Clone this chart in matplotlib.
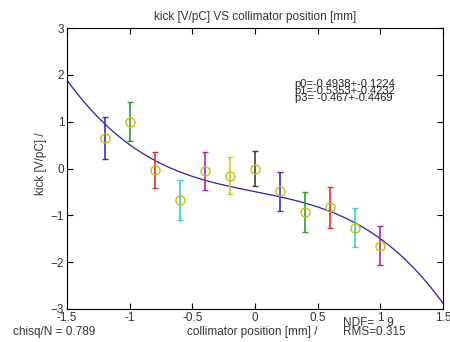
import numpy as np
import matplotlib
matplotlib.use('Agg')
import matplotlib.pyplot as plt

plt.rcParams['font.family'] = ['Liberation Sans', 'DejaVu Sans']

# measured points (collimator position, kick, error)
pos = [-1.2, -1.0, -0.8, -0.6, -0.4, -0.2, 0.0, 0.2, 0.4, 0.6, 0.8, 1.0]
kick = [0.65, 1.0, -0.03, -0.67, -0.05, -0.15, 0.0, -0.49, -0.93, -0.83, -1.26, -1.65]
err = [0.45, 0.42, 0.38, 0.42, 0.40, 0.39, 0.37, 0.41, 0.43, 0.44, 0.42, 0.42]
bar_colors = ['#3333cc', '#339933', '#e03030', '#30d0d0', '#b020b0', '#c8c820', '#404040',
              '#3333cc', '#339933', '#e03030', '#30d0d0', '#b020b0']

# fit parameters p0 + p1*x + p3*x^3 (as printed on the chart)
p0, p1, p3 = -0.4938, -0.5353, -0.467
fit_x = np.linspace(-1.5, 1.5, 200)
fit_y = p0 + p1 * fit_x + p3 * fit_x ** 3

fig = plt.figure(figsize=(4.5, 3.42), dpi=100)
ax = fig.add_axes([0.149, 0.0965, 0.835, 0.8215])

ax.plot(fit_x, fit_y, color='#2020c0', lw=0.9)
for x, y, e, c in zip(pos, kick, err, bar_colors):
    ax.errorbar(x, y, yerr=e, fmt='none', ecolor=c, elinewidth=1.2, capsize=2.5, capthick=1)
ax.plot(pos, kick, 'o', mfc='none', mec='#c8c000', ms=6.5, mew=1)

ax.set_xlim(-1.5, 1.5)
ax.set_ylim(-3, 3)
ax.set_xticks([-1.5, -1, -0.5, 0, 0.5, 1, 1.5])
ax.set_xticklabels(['-1.5', '-1', '-0.5', '0', '0.5', '1', '1.5'])
ax.set_yticks([-3, -2, -1, 0, 1, 2, 3])
ax.tick_params(direction='in', top=True, right=True, length=4, labelsize=8.5,
               labelcolor='#333333', pad=2)
ax.tick_params(axis='x', pad=2)
for s in ax.spines.values():
    s.set_linewidth(0.8)

ax.set_title('kick [V/pC] VS collimator position [mm]', fontsize=8.5, color='#333333', pad=6)
fig.text(0.5 + 0.06, 0.03, 'collimator position [mm] /', fontsize=8.5, color='#333333',
         ha='center', va='center')
fig.text(0.092, 0.52, 'kick [V/pC] /', fontsize=8.5, color='#333333', rotation=90,
         ha='center', va='center')

fig.text(0.029, 0.03, 'chisq/N = 0.789', fontsize=8.5, color='#333333', va='center')
fig.text(0.762, 0.056, 'NDF=    9', fontsize=8.5, color='#333333', va='center')
fig.text(0.762, 0.03, 'RMS=0.315', fontsize=8.5, color='#333333', va='center')

for i, t in enumerate(['p0=-0.4938+-0.1224', 'p1=-0.5353+-0.4232', 'p3= -0.467+-0.4469']):
    fig.text(0.655, 1 - (84 + 7 * i) / 342, t, fontsize=8, color='#222222',
             va='center', fontstretch='condensed')

fig.savefig('out.png', dpi=100)
